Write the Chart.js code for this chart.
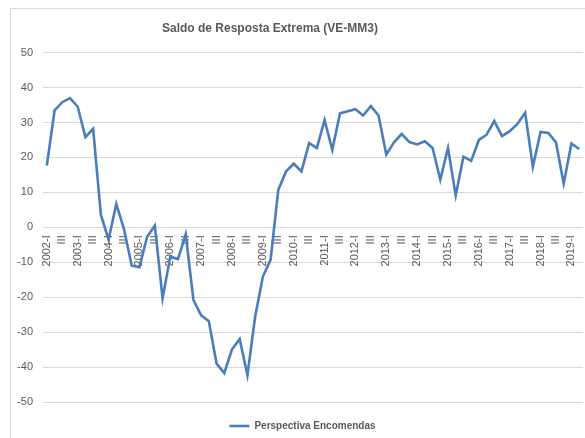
<!DOCTYPE html>
<html>
<head>
<meta charset="utf-8">
<script src="https://cdn.jsdelivr.net/npm/chart.js@4/dist/chart.umd.min.js"></script>
<style>
html,body{margin:0;padding:0;background:#fff;}
#wrap{width:585px;height:438px;position:relative;}
</style>
</head>
<body>
<div id="wrap"><canvas id="c" width="585" height="438"></canvas></div>
<script>
// ---- data ----
const years = [2002,2003,2004,2005,2006,2007,2008,2009,2010,2011,2012,2013,2014,2015,2016,2017,2018,2019];
const quarters = ["I","II","III","IV"];
const seriesName = "Perspectiva Encomendas";
const chartTitle = "Saldo de Resposta Extrema (VE-MM3)";
const values = [
  17.7, 33.5, 35.8, 37.0,
  34.5, 25.8, 28.2, 3.6,
  -3.5, 6.7, -0.5, -11.0,
  -11.4, -2.7, 0.5, -20.3,
  -8.4, -9.1, -2.0, -20.8,
  -25.2, -26.9, -39.0, -41.7,
  -34.9, -32.0, -42.3, -25.6,
  -14.1, -9.3, 10.7, 16.0,
  18.2, 16.0, 24.1, 22.7,
  30.7, 22.2, 32.6, 33.2,
  33.8, 32.0, 34.7, 32.0,
  20.8, 24.3, 26.7, 24.4,
  23.7, 24.6, 22.7, 13.6,
  22.7, 9.1, 20.2, 19.0,
  25.0, 26.5, 30.4, 26.1,
  27.5, 29.6, 32.8, 17.3,
  27.3, 27.0, 24.3, 12.5,
  24.0, 22.4
];
const yTicks = [-50,-40,-30,-20,-10,0,10,20,30,40,50];

const categories = [];
years.forEach(y => quarters.forEach((q, i) => categories.push(i === 0 ? y + "-" + q : q)));
categories.length = values.length;

const GRAY = "#595959";
const GRID = "#d9d9d9";
const LINE = "#4a7ebb";
const FONT = "'Liberation Sans',Arial,sans-serif";

const decor = {
  id: "decor",
  beforeDraw(chart) {
    const ctx = chart.ctx;
    ctx.save();
    ctx.fillStyle = "#fff";
    ctx.fillRect(0, 0, chart.width, chart.height);
    ctx.strokeStyle = GRID;
    ctx.lineWidth = 1;
    ctx.strokeRect(10.5, 8.5, 700, 500);
    ctx.restore();
    if (chart.titleBlock) { chart.titleBlock.left = 0; chart.titleBlock.right = 540; }
    if (chart.legend) {
      const lg = chart.legend;
      const w = lg.right - lg.left;
      lg.left = 11; lg.right = 11 + w;
      lg.top = 426 - lg.options.labels.padding - 5;
    }
  }
};

new Chart(document.getElementById("c"), {
  type: "line",
  data: {
    labels: categories,
    datasets: [{
      label: seriesName,
      data: values,
      borderColor: LINE,
      backgroundColor: LINE,
      borderWidth: 2.6,
      pointRadius: 0,
      pointStyle: "line",
      tension: 0,
      fill: false
    }]
  },
  options: {
    responsive: false,
    animation: false,
    layout: { padding: { top: 2, left: 0, right: 2, bottom: 6 } },
    plugins: {
      tooltip: { enabled: false },
      title: {
        display: true,
        text: chartTitle,
        color: GRAY,
        font: { family: FONT, size: 12, weight: "bold" },
        padding: { top: 19.5, bottom: 16.7 }
      },
      legend: {
        display: true,
        position: "bottom",
        labels: {
          color: GRAY,
          font: { family: FONT, size: 10, weight: "bold" },
          usePointStyle: true,
          pointStyleWidth: 20,
          padding: 10
        }
      }
    },
    scales: {
      x: {
        type: "category",
        position: { y: 0 },
        offset: true,
        grid: { display: false, drawTicks: false },
        border: { display: false },
        ticks: {
          autoSkip: false,
          maxRotation: 90,
          minRotation: 90,
          padding: 8,
          color: GRAY,
          font: { family: FONT, size: 11 },
          callback: (v, i) => (i % 2 === 0 ? categories[i] : "")
        },
        afterFit: s => { s.paddingLeft = 0; s.paddingRight = 0; }
      },
      y: {
        min: -50,
        max: 50,
        afterBuildTicks: s => { s.ticks = yTicks.map(v => ({ value: v })); },
        grid: { color: GRID, lineWidth: 1, drawTicks: false },
        border: { display: false },
        ticks: {
          padding: 10,
          color: GRAY,
          font: { family: FONT, size: 11 }
        },
        afterFit: s => { s.width = 43; }
      }
    }
  },
  plugins: [decor]
});
</script>
</body>
</html>
